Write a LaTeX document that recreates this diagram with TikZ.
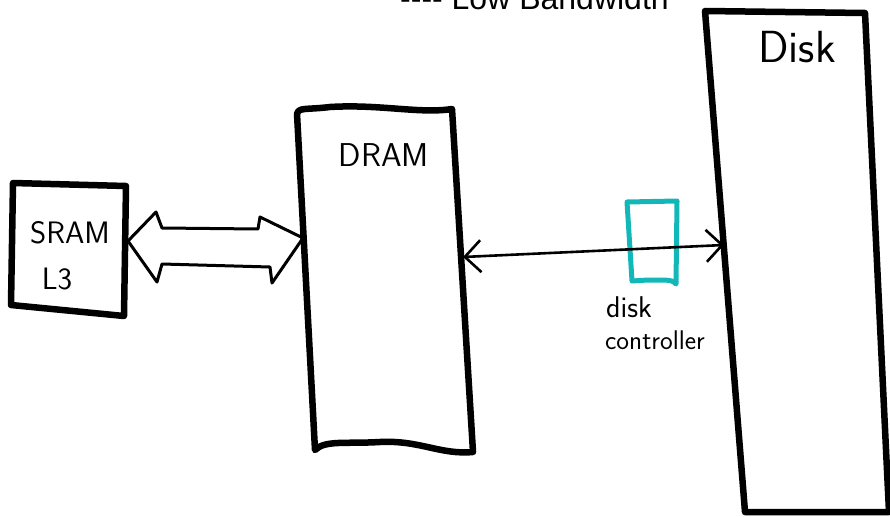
\documentclass[tikz,border=0pt]{standalone}
\usepackage{fontspec}
\newfontfamily\arialf{Liberation Sans}
\usetikzlibrary{arrows.meta}
\definecolor{tealc}{RGB}{18,184,184}
\begin{document}
\begin{tikzpicture}[x=1pt,y=-1pt,
  boxline/.style={line width=6.5pt, line join=round, line cap=round},
  thinline/.style={line width=3pt, line join=round, line cap=round},
  hand/.style={font=\sffamily, inner sep=0pt},
  link/.style={line width=2.6pt, line cap=round, {Straight Barb[length=16pt,width=32pt,line width=2.6pt]}-{Straight Barb[length=16pt,width=32pt,line width=2.6pt]}}]
\useasboundingbox (0,0) rectangle (890,516);
\clip (0,0) rectangle (890,516);
% title
\node[anchor=base west, inner sep=0pt, font=\arialf\fontsize{32}{36}\selectfont] (title) at (400,10) {---- Low Bandwidth};
% SRAM box
\draw[boxline] (13,183) -- (126,186) -- (124,316) -- (11,305) -- cycle;
\node[hand, font=\sffamily\fontsize{31}{34}\selectfont] (sram) at (70,233) {SRAM};
\node[hand, font=\sffamily\fontsize{31}{34}\selectfont] (l3) at (57,279) {L3};
% DRAM box
\draw[boxline] (297,114) .. controls (299,107) and (305,110) .. (330,107) .. controls (380,104) and (420,114) .. (452,109) -- (473,452) .. controls (440,455) and (420,440) .. (380,442) .. controls (345,444) and (325,440) .. (315,450) -- cycle;
\node[hand, font=\sffamily\fontsize{33}{36}\selectfont] (dram) at (384,155) {DRAM};
% Disk box
\draw[boxline] (705,11) -- (865,13) -- (889,512) -- (745,512) -- cycle;
\node[hand, font=\sffamily\fontsize{45}{50}\selectfont] (disk) at (797,47) {Disk};
% fat double arrow
\draw[thinline] (128,241) -- (156,212) -- (162,228) -- (258,229) -- (260,217) -- (303,238) -- (272,283) -- (270,267) -- (162,264) -- (157,282) -- cycle;
% disk controller
\draw[line width=5pt, tealc, line join=round, line cap=round] (627,202) -- (677,201) -- (676,284) .. controls (672,278) and (660,281) .. (648,280) -- (632,281) -- cycle;
\node[hand, anchor=base west, font=\sffamily\fontsize{30}{32}\selectfont] (dc1) at (606,317) {disk};
\node[hand, anchor=base west, font=\sffamily\fontsize{27}{30}\selectfont] (dc2) at (605,349) {controller};
% thin double arrow
\coordinate (dramR) at (463,257);
\coordinate (diskL) at (724,245);
\draw[link] (dramR) -- (diskL);
\end{tikzpicture}
\end{document}
